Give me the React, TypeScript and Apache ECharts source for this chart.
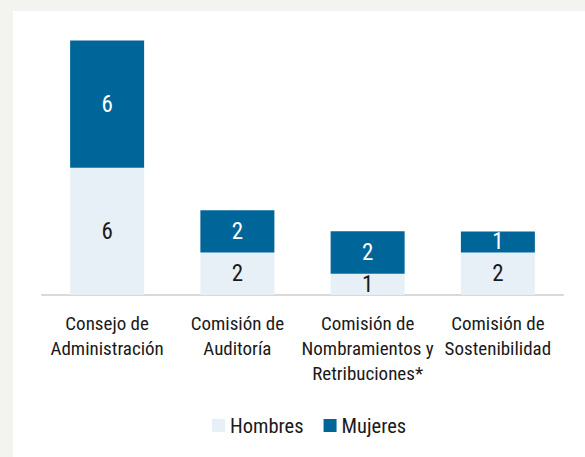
import React, { useEffect, useRef } from "react";
import * as echarts from "echarts";

const categories = [
  "Consejo de\nAdministración",
  "Comisión de\nAuditoría",
  "Comisión de\nNombramientos y\nRetribuciones*",
  "Comisión de\nSostenibilidad",
];
const hombres = [6, 2, 1, 2];
const mujeres = [6, 2, 2, 1];
const seriesNames = ["Hombres", "Mujeres"];

const FONT = "'Roboto Condensed', 'DejaVu Sans Condensed', sans-serif";

export default function App() {
  const ref = useRef<HTMLDivElement>(null);
  useEffect(() => {
    if (!ref.current) return;
    const chart = echarts.init(ref.current, undefined, { renderer: "svg" });
    chart.setOption({
      animation: false,
      backgroundColor: "#f3f4ef",
      textStyle: { fontFamily: FONT },
      graphic: [
        {
          type: "rect",
          z: -10,
          silent: true,
          shape: { x: 13, y: 11, width: 600, height: 460 },
          style: { fill: "#ffffff" },
        },
      ],
      grid: { left: 42, right: 22, top: 40.5, bottom: 162, containLabel: false },
      legend: {
        data: seriesNames,
        bottom: 16,
        left: 207,
        itemWidth: 13,
        itemHeight: 13,
        itemGap: 20,
        icon: "rect",
        textStyle: { fontFamily: FONT, fontSize: 20.5, color: "#1a1a1a" },
      },
      xAxis: {
        type: "category",
        data: categories,
        axisLine: { lineStyle: { color: "#d9d9d9", width: 2 } },
        axisTick: { show: false },
        axisLabel: {
          interval: 0,
          fontFamily: FONT,
          fontSize: 19,
          lineHeight: 25,
          color: "#1a1a1a",
          margin: 16,
        },
      },
      yAxis: {
        type: "value",
        min: 0,
        max: 12,
        show: false,
        splitLine: { show: false },
      },
      series: [
        {
          name: seriesNames[0],
          type: "bar",
          stack: "total",
          data: hombres,
          barWidth: 74,
          itemStyle: { color: "#e8f0f7" },
          label: {
            show: true,
            position: "inside",
            fontFamily: FONT,
            fontSize: 23,
            color: "#1a1a1a",
          },
        },
        {
          name: seriesNames[1],
          type: "bar",
          stack: "total",
          data: mujeres,
          barWidth: 74,
          itemStyle: { color: "#006699" },
          label: {
            show: true,
            position: "inside",
            fontFamily: FONT,
            fontSize: 23,
            color: "#ffffff",
          },
        },
      ],
    });
    return () => chart.dispose();
  }, []);
  return (
    <div
      ref={ref}
      style={{ position: "fixed", left: 0, top: 0, width: 585, height: 457 }}
    />
  );
}
